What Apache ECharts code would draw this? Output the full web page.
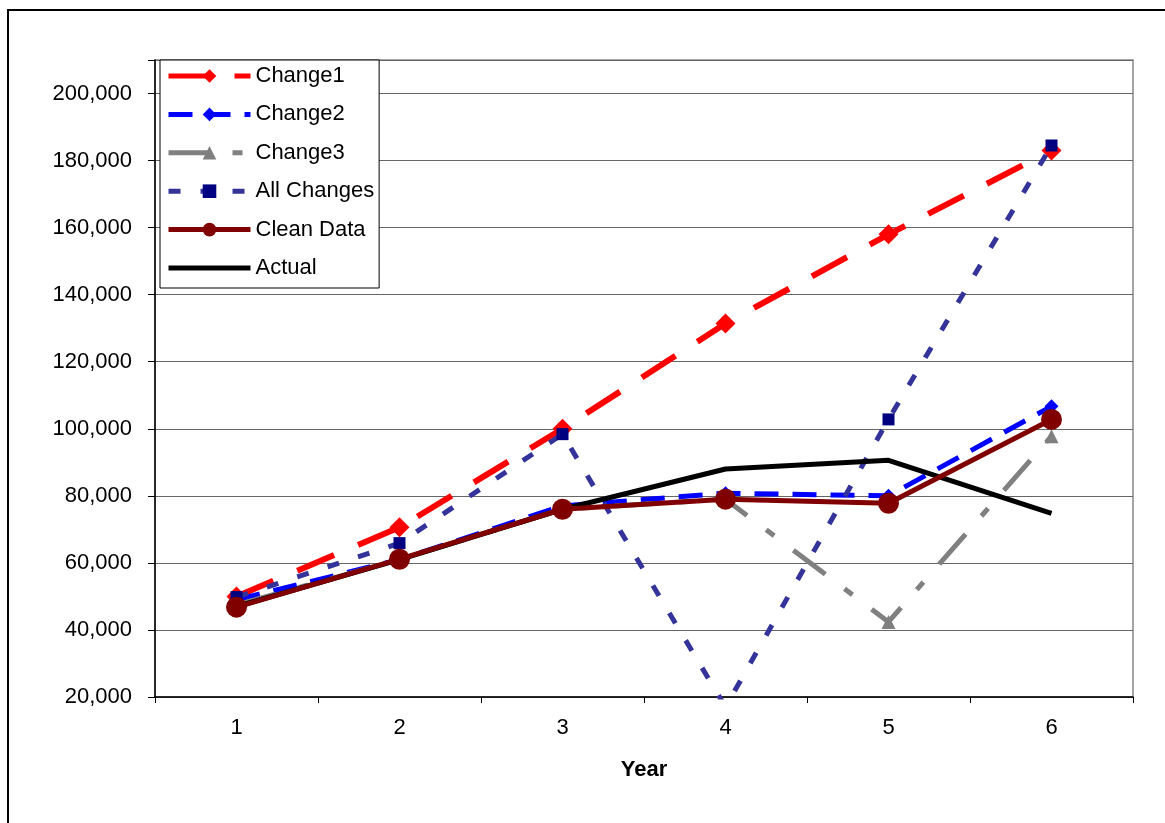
<!DOCTYPE html>
<html><head><meta charset="utf-8">
<script src="https://cdn.jsdelivr.net/npm/echarts@6/dist/echarts.min.js"></script>
<style>html,body{margin:0;padding:0;background:#fff}#c{width:1165px;height:823px}</style>
</head><body><div id="c"></div>
<script>
var years = ['1','2','3','4','5','6'];
var change1 = [50000, 70600, 100000, 131400, 158000, 183000];
var change2 = [49000, 61000, 77000, 80800, 80000, 106700];
var change3 = [47500, 61000, 76000, 79000, 42400, 97800];
var allChanges = [49800, 65900, 98400, 17000, 102800, 184500];
var cleanData = [46800, 61100, 76000, 79000, 77800, 102800];
var actual = [47000, 61000, 76000, 88000, 90600, 74800];
var yTicks = [20000, 40000, 60000, 80000, 100000, 120000, 140000, 160000, 180000, 200000];

var chart = echarts.init(document.getElementById('c'));
var F = 'Liberation Sans, Arial, sans-serif';
function fmt(v){ return v.toString().replace(/\B(?=(\d{3})+(?!\d))/g, ','); }
chart.setOption({
  animation: false,
  graphic: [{type:'rect', shape:{x:8, y:10, width:1200, height:900}, style:{fill:'none', stroke:'#000', lineWidth:2}, z:100}],
  grid: {left:155, right:32, top:60, bottom:126, show:true, borderColor:'#888', borderWidth:1.5},
  legend: {
    left: 160, top: 60, orient: 'vertical', itemWidth: 82, itemHeight: 17, itemGap: 16.4,
    padding: [5, 5, 9, 6], borderColor: '#000', borderWidth: 1, backgroundColor: '#fff',
    lineStyle: {width: 5},
    textStyle: {fontFamily: F, fontSize: 22, color: '#000'},
    data: ['Change1','Change2','Change3','All Changes','Clean Data',
           {name:'Actual', itemStyle:{opacity:0}}]
  },
  xAxis: {
    type: 'category', data: years, boundaryGap: true,
    name: 'Year', nameLocation: 'middle', nameGap: 62,
    nameTextStyle: {fontFamily: F, fontSize: 22, fontWeight: 'bold', color: '#000'},
    axisLine: {lineStyle: {color: '#000', width: 1.5}},
    axisTick: {show: true, length: 6, lineStyle: {color: '#000'}},
    axisLabel: {fontFamily: F, fontSize: 22, color: '#000', margin: 20}
  },
  yAxis: {
    type: 'value', min: 20000, max: 210000, interval: 20000,
    axisLine: {show: true, lineStyle: {color: '#000', width: 1.5}},
    axisTick: {show: true, length: 7, lineStyle: {color: '#000'}},
    axisLabel: {fontFamily: F, fontSize: 22, color: '#000', margin: 23,
      formatter: function(v){ return yTicks.indexOf(v) >= 0 ? fmt(v) : ''; }},
    splitLine: {lineStyle: {color: '#666', width: 1}}
  },
  series: [
    {name:'Change1', type:'line', data:change1, z:3, symbol:'diamond', symbolSize:20,
     itemStyle:{color:'#ff0000'}, lineStyle:{color:'#ff0000', width:6, type:[40,26]}},
    {name:'Change2', type:'line', data:change2, z:4, symbol:'diamond', symbolSize:14,
     itemStyle:{color:'#0000ff'}, lineStyle:{color:'#0000ff', width:5, type:[24,14]}},
    {name:'Change3', type:'line', data:change3, z:5, symbol:'triangle', symbolSize:14,
     itemStyle:{color:'#808080'}, lineStyle:{color:'#808080', width:5, type:[40,24,10,24]}},
    {name:'All Changes', type:'line', data:allChanges, z:6, symbol:'rect', symbolSize:12,
     itemStyle:{color:'#000080'}, lineStyle:{color:'#333399', width:5, type:[12,20]}},
    {name:'Clean Data', type:'line', data:cleanData, z:8, symbol:'circle', symbolSize:21,
     itemStyle:{color:'#800000'}, lineStyle:{color:'#800000', width:5}},
    {name:'Actual', type:'line', data:actual, z:7, symbol:'none',
     itemStyle:{color:'#000'}, lineStyle:{color:'#000', width:5}}
  ]
});
</script></body></html>
